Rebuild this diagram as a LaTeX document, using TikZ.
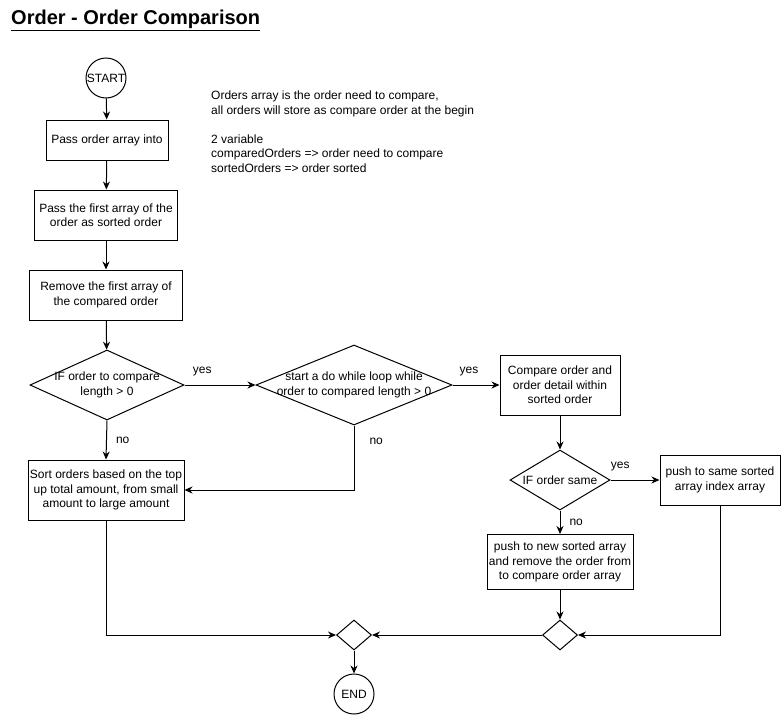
\documentclass[tikz,border=0pt]{standalone}
\usepackage{fontspec}
\setmainfont{Liberation Sans}
\usetikzlibrary{arrows.meta, shapes.geometric}

\begin{document}
\begin{tikzpicture}[x=1pt, y=-1pt, font=\fontsize{12}{14.5}\selectfont]

  % Define styles
  \tikzset{
    process/.style={draw=black, line width=1pt, align=center, inner sep=0pt},
    decision/.style={draw=black, line width=1pt, diamond, inner sep=0pt},
    terminal/.style={draw=black, line width=1pt, circle, inner sep=0pt, minimum size=40},
    flow/.style={-{Stealth[length=8pt,width=7pt]}, line width=1pt},
    edge label/.style={inner sep=0pt},
    note/.style={align=left, inner sep=0pt, anchor=north west}
  }

  \useasboundingbox (0,0) rectangle (781,715);

  %% Title
  \node[anchor=west, inner sep=0pt, font=\fontsize{20}{22}\selectfont\bfseries] (title) at (11,20)
    {\underline{Order - Order Comparison}};

  %% Note
  \node[note] (note) at (211,91)
    {Orders array is the order need to compare,\\
     all orders will store as compare order at the begin\\[14.5pt]
     2 variable\\
     comparedOrders => order need to compare\\
     sortedOrders => order sorted};

  %% Left column
  \node[terminal] (start) at (106,78) {};
  \node (starttext) at (start) {START};
  \node[process, minimum width=122, minimum height=40] (passinto) at (107,140)
    {Pass order array into};
  \node[process, minimum width=143, minimum height=50] (passfirst) at (106,215)
    {Pass the first array of the\\order as sorted order};
  \node[process, minimum width=153, minimum height=50] (removefirst) at (106,295)
    {Remove the first array of\\the compared order};

  \node[decision, minimum width=154, minimum height=70] (ifcompare) at (107,385) {};
  \node[align=center] (ifcomparetext) at (ifcompare) {IF order to compare\\length > 0};

  \node[process, minimum width=156, minimum height=60] (sortorders) at (106,490)
    {Sort orders based on the top\\up total amount, from small\\amount to large amount};

  %% Loop
  \node[decision, minimum width=196, minimum height=80] (doloop) at (354,385) {};
  \node[align=center] (doooptext) at (doloop) {start a do while loop while\\order to compared length > 0};

  \node[process, minimum width=120, minimum height=60] (compare) at (560,385)
    {Compare order and\\order detail within\\sorted order};

  \node[decision, minimum width=100, minimum height=60] (ifsame) at (560,480) {};
  \node (ifsametext) at (ifsame) {IF order same};

  \node[process, minimum width=120, minimum height=50] (pushsame) at (720,480)
    {push to same sorted\\array index array};
  \node[process, minimum width=146, minimum height=55] (pushnew) at (560,562)
    {push to new sorted array\\and remove the order from\\to compare order array};

  %% Merge and end
  \node[decision, minimum width=35, minimum height=30] (mergeleft) at (354,635) {};
  \node[decision, minimum width=35, minimum height=30] (mergeright) at (560,635) {};
  \node[terminal] (end) at (354,694) {END};

  % Connectors
  \draw[flow] (start) -- (passinto);
  \draw[flow] (passinto) -- (passfirst);
  \draw[flow] (passfirst) -- (removefirst);
  \draw[flow] (removefirst) -- (ifcompare);

  \draw[flow] (ifcompare.east) -- node[edge label, above=9pt, pos=0.25] {yes} (doloop.west);
  \draw[flow] (ifcompare.south) -- node[edge label, right=9pt] {no} (sortorders.north);

  \draw[flow] (doloop.east) -- node[edge label, above=9pt, pos=0.35] {yes} (compare.west);
  \draw[flow] (doloop.south) |- node[edge label, right=15pt, pos=0.12] {no} (sortorders.east);

  \draw[flow] (compare) -- (ifsame);
  \draw[flow] (ifsame.east) -- node[edge label, above=9pt, pos=0.2] {yes} (pushsame.west);
  \draw[flow] (ifsame.south) -- node[edge label, right=9pt] {no} (pushnew.north);

  \draw[flow] (pushnew) -- (mergeright);
  \draw[flow] (pushsame.south) |- (mergeright.east);
  \draw[flow] (mergeright.west) -- (mergeleft.east);
  \draw[flow] (sortorders.south) |- (mergeleft.west);
  \draw[flow] (mergeleft) -- (end);

\end{tikzpicture}
\end{document}
